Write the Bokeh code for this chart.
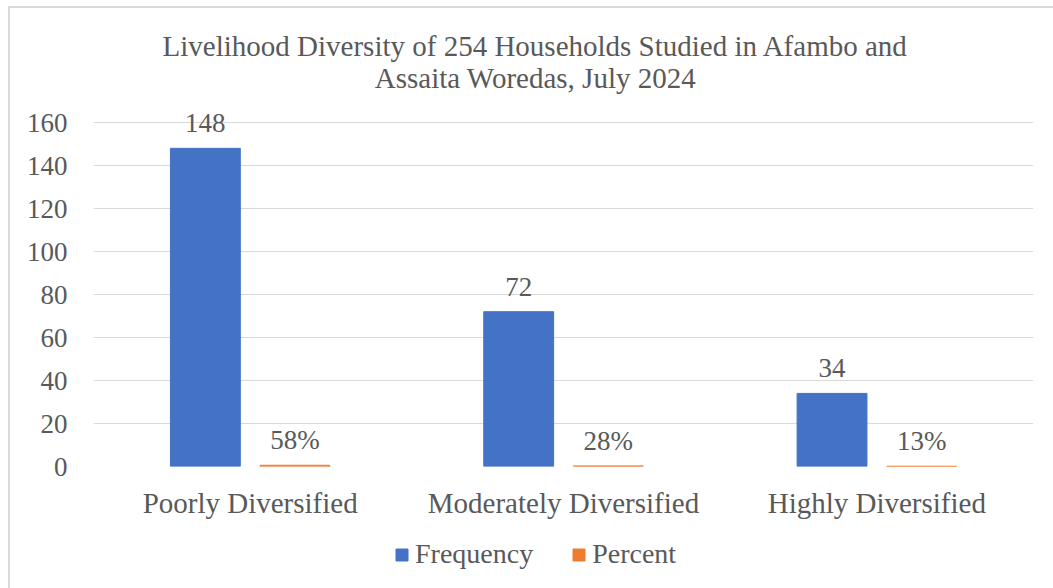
from bokeh.plotting import figure
from bokeh.layouts import column
from bokeh.models import (ColumnDataSource, Legend, LegendItem, FixedTicker, Label,
                          Range1d)
from bokeh.transform import dodge
from bokeh.embed import file_html
from bokeh.resources import INLINE
from bokeh.core.properties import value

categories = ["Poorly Diversified", "Moderately Diversified", "Highly Diversified"]
frequency = [148, 72, 34]
percent = [0.58, 0.28, 0.13]
freq_labels = ["148", "72", "34"]
pct_labels = ["58%", "28%", "13%"]
y_ticks = [0, 20, 40, 60, 80, 100, 120, 140, 160]
title_lines = ["Livelihood Diversity of 254 Households Studied in Afambo and",
               "Assaita Woredas, July 2024"]
series_names = ["Frequency", "Percent"]

BLUE = "#4472C4"
ORANGE = "#ED7D31"
TEXT = "#595959"
GRID = "#D9D9D9"
FONT = "Liberation Serif"
W = 1043

src = ColumnDataSource(dict(cat=categories, freq=frequency, pct=percent,
                            fl=freq_labels, pl=pct_labels))


def style_blank(f):
    f.axis.visible = False
    f.grid.visible = False
    f.outline_line_color = None
    f.background_fill_color = "white"
    f.border_fill_color = "white"
    return f


# ---- title ----
TH = 88
pt = style_blank(figure(width=W, height=TH, x_range=Range1d(0, 1), y_range=Range1d(0, 1),
                        output_backend="svg", toolbar_location=None,
                        min_border_left=83, min_border_right=20,
                        min_border_top=0, min_border_bottom=0))
for t, yy in zip(title_lines, [TH - 37, TH - 69]):
    pt.add_layout(Label(x=442, y=yy, x_units="screen", y_units="screen", text=t,
                        text_align="center", text_baseline="middle",
                        text_font=FONT, text_font_size="29px", text_color=TEXT))

# ---- main chart ----
MH = 434
p = figure(width=W, height=MH, x_range=categories, y_range=(0, 172.1),
           output_backend="svg", toolbar_location=None,
           min_border_left=83, min_border_right=20, min_border_top=0, min_border_bottom=64)
p.outline_line_color = None
p.background_fill_color = "white"
p.border_fill_color = "white"

r1 = p.vbar(x=dodge("cat", -0.143, range=p.x_range), top="freq", width=0.223,
            source=src, color=BLUE)
r2 = p.vbar(x=dodge("cat", 0.143, range=p.x_range), top="pct", width=0.223,
            source=src, color=ORANGE)

p.text(x=dodge("cat", -0.143, range=p.x_range), y="freq", text="fl", source=src,
       text_align="center", text_baseline="alphabetic", y_offset=-25,
       text_font=value(FONT), text_font_size="27px", text_color=TEXT)
p.text(x=dodge("cat", 0.143, range=p.x_range), y="pct", text="pl", source=src,
       text_align="center", text_baseline="alphabetic", y_offset=-25,
       text_font=value(FONT), text_font_size="27px", text_color=TEXT)

p.yaxis.ticker = FixedTicker(ticks=y_ticks)
for ax in (p.xaxis[0], p.yaxis[0]):
    ax.axis_line_color = None
    ax.major_tick_line_color = None
    ax.minor_tick_line_color = None
    ax.major_label_text_font = FONT
    ax.major_label_text_color = TEXT
p.yaxis.major_label_text_font_size = "27px"
p.yaxis.major_label_standoff = 20
p.xaxis.major_label_text_font_size = "29px"
p.xaxis.major_label_standoff = 14
p.xgrid.grid_line_color = None
p.ygrid.grid_line_color = GRID
p.ygrid.grid_line_width = 1

# ---- legend ----
LH = 58
pl = style_blank(figure(width=W, height=LH, x_range=categories, y_range=Range1d(-10, -5),
                        output_backend="svg", toolbar_location=None,
                        min_border_left=83, min_border_right=20,
                        min_border_top=0, min_border_bottom=0))
g1 = pl.vbar(x="cat", top="freq", width=0.2, source=src, color=BLUE, visible=False)
g2 = pl.vbar(x="cat", top="pct", width=0.2, source=src, color=ORANGE, visible=False)
legend = Legend(items=[LegendItem(label=series_names[0], renderers=[g1]),
                       LegendItem(label=series_names[1], renderers=[g2])],
                location=(301, LH - 25 - 15), orientation="horizontal",
                border_line_color=None, background_fill_alpha=0,
                padding=0, margin=0, spacing=38, label_standoff=6,
                glyph_width=15, glyph_height=15,
                label_text_font="Times New Roman", label_text_font_size="28px",
                label_text_color=TEXT)
pl.add_layout(legend, "center")

layout = column(pt, p, pl, spacing=0, margin=(6, 0, 0, 8),
                styles={"border-top": "2px solid #DADADA", "border-left": "2px solid #DADADA",
                        "background": "white"})
open("out.html", "w").write(file_html(layout, INLINE))
